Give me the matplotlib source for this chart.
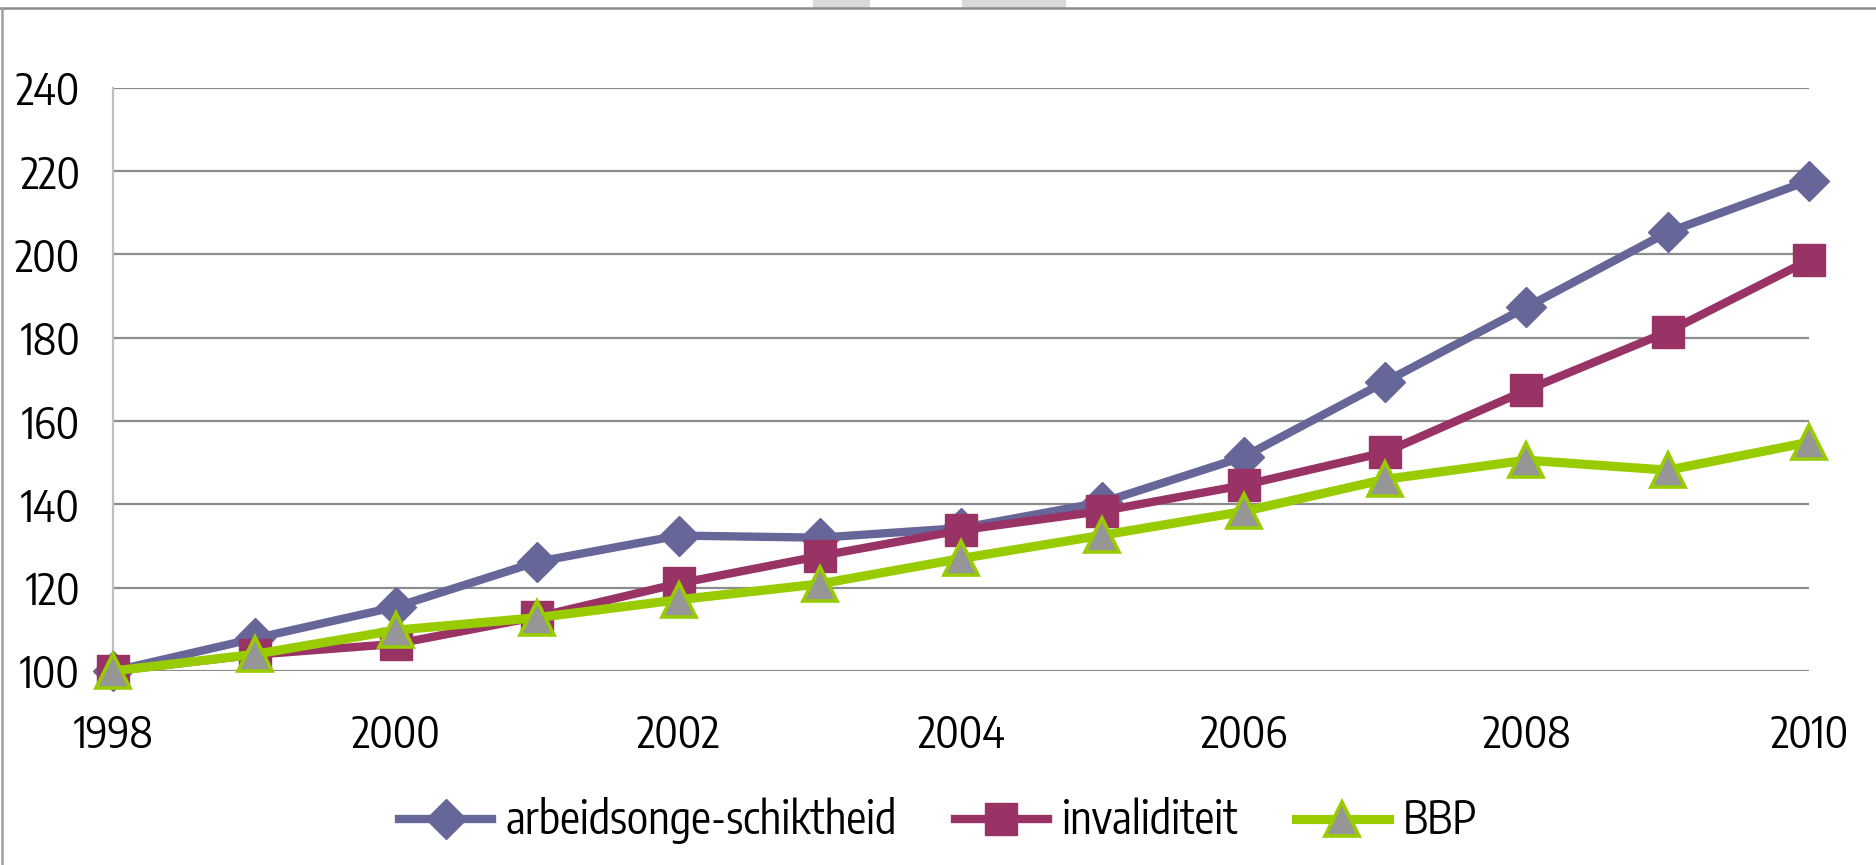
import matplotlib.pyplot as plt
from matplotlib.lines import Line2D
from matplotlib.patches import Rectangle

plt.rcParams["font.family"] = ["Encode Sans Condensed", "Carlito", "DejaVu Sans"]

years = list(range(1998, 2011))
arbeidsongeschiktheid = [100, 107.8, 115.4, 126.2, 132.5, 132.0, 134.3,
                         140.5, 151.4, 169.4, 187.3, 205.3, 217.7]
invaliditeit = [100, 103.9, 106.5, 113.0, 121.0, 127.6, 133.8,
                138.4, 144.6, 152.5, 167.4, 181.4, 198.6]
bbp = [100, 104.0, 109.8, 112.8, 117.1, 120.9, 127.0,
       132.6, 138.3, 146.0, 150.6, 148.2, 154.9]

series_labels = ["arbeidsonge-schiktheid", "invaliditeit", "BBP"]
y_ticks = [100, 120, 140, 160, 180, 200, 220, 240]
x_ticks = [1998, 2000, 2002, 2004, 2006, 2008, 2010]

BLUE = "#666699"
PLUM = "#993366"
LIME = "#99CC00"
GREY = "#969696"

# shared line/marker styles for the plot and the legend
STYLES = [
    dict(color=BLUE, lw=6.0, marker="D", ms=20, mfc=BLUE, mec=BLUE),
    dict(color=PLUM, lw=6.0, marker="s", ms=23, mfc=PLUM, mec=PLUM),
    dict(color=LIME, lw=6.6, marker="^", ms=24, mfc=GREY, mec=LIME, mew=2.6),
]

fig = plt.figure(figsize=(18.76, 8.65), dpi=100)
ax = fig.add_axes([0.0604, 0.2243, 0.9039, 0.6743])

for z, (values, style) in enumerate(zip(
        [arbeidsongeschiktheid, invaliditeit, bbp], STYLES)):
    ax.plot(years, values, zorder=3 + z, clip_on=False, **style)

ax.set_xlim(1998, 2010)
ax.set_ylim(100, 240)
ax.set_yticks(y_ticks)
ax.set_xticks(x_ticks)
ax.tick_params(axis="both", length=0, labelsize=31)
ax.tick_params(axis="y", pad=24)
ax.tick_params(axis="x", pad=30)
ax.yaxis.grid(True, color="#8c8c8c", lw=1.6)
ax.set_axisbelow(True)
for side in ("top", "right", "bottom"):
    ax.spines[side].set_visible(False)
ax.spines["left"].set_color("#bfbfbf")
ax.spines["left"].set_linewidth(1.6)

# chart-area frame (top and left edges only)
fig.add_artist(Line2D([0.0, 1.0], [0.9905, 0.9905], color="#8c8c8c", lw=1.8,
                      transform=fig.transFigure))
fig.add_artist(Line2D([0.0011, 0.0011], [0.0, 0.9905], color="#a0a0a0", lw=1.8,
                      transform=fig.transFigure))
# faint shapes peeking in above the frame
for x0, w in [(813, 57), (962, 104)]:
    fig.add_artist(Rectangle((x0 / 1876, 0.9905), w / 1876, 0.0095,
                             facecolor="#d9d9d9", edgecolor="none",
                             transform=fig.transFigure))

handles = [Line2D([], [], **style) for style in STYLES]
fig.legend(handles, series_labels, loc="center", bbox_to_anchor=(0.5, 0.051),
           ncol=3, frameon=False, fontsize=32, handlelength=2.1,
           handletextpad=0.3, columnspacing=1.3)

fig.savefig("out.png", dpi=100)
